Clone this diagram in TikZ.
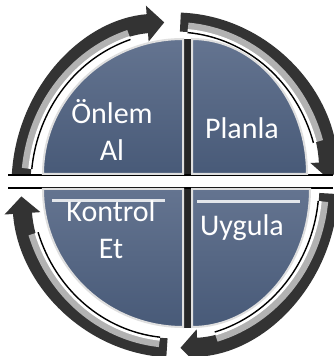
\documentclass[tikz,border=0pt]{standalone}
\usepackage{fontspec}
\setmainfont{Carlito}
\usetikzlibrary{arrows.meta}
\definecolor{slate}{RGB}{72,90,120}
\definecolor{slatelt}{RGB}{100,116,144}

\begin{document}
\begin{tikzpicture}[
  x=1pt, y=1pt,
  quad/.style={top color=slatelt, bottom color=slate, draw=gray!25, line width=2pt},
  ring/.style={line width=19pt, draw=black!80, -{Triangle[length=17pt, width=35pt]}},
  ringmid/.style={line width=8pt, draw=gray!60},
  ringhi/.style={line width=3pt, draw=white},
  edge/.style={line width=1.4pt, draw=black},
  lbl/.style={text=white, font=\fontsize{30}{37}\selectfont, align=center},
]
\useasboundingbox[fill=white] (0,0) rectangle (333,356);

% --- ring arrows ---
\foreach \a/\b [evaluate=\a as \as using \a-3, evaluate=\b as \bs using \b+14] in {177/94, 88/2, -3/-88, -93/-176}{
  \draw[ring, shift={(175,171)}] (\a:154 and 163) arc[start angle=\a, end angle=\b, x radius=154, y radius=163];
  \draw[ringmid, shift={(175,171)}] (\as:150 and 159) arc[start angle=\as, end angle=\bs, x radius=150, y radius=159];
  \draw[ringhi, shift={(175,171)}] (\as:146 and 155) arc[start angle=\as, end angle=\bs, x radius=146, y radius=155];
  \draw[edge, shift={(175,171)}] (\as:144 and 153) arc[start angle=\as, end angle=\bs, x radius=144, y radius=153];
}

% --- gaps ---
\fill[white] (8,168) rectangle (333,181);
\draw[edge] (8,181) -- (333,181);
\draw[edge] (8,168) -- (333,168);
\fill[black!85] (182,182) rectangle (193,317);
\fill[black!85] (182,167) rectangle (193,28);

% --- quadrants ---
\draw[quad] (183,182) -- (43,182) arc[start angle=180, end angle=90, x radius=140, y radius=135] -- cycle;
\draw[quad] (192,182) -- (192,317) arc[start angle=90, end angle=0, x radius=115, y radius=135] -- cycle;
\draw[quad] (192,167) -- (310,167) arc[start angle=0, end angle=-90, x radius=118, y radius=138] -- cycle;
\draw[quad] (183,167) -- (183,29) arc[start angle=270, end angle=180, x radius=140, y radius=138] -- cycle;
\draw[line width=3pt, white!85!slate] (52,155) -- (165,155);
\draw[line width=3pt, white!85!slate] (197,154) -- (300,154);

% --- labels ---
\node[lbl] (onlem)   at (112,226) {Önlem\\Al};
\node[lbl] (planla)  at (242,228) {Planla};
\node[lbl] (kontrol) at (111,126) {Kontrol\\Et};
\node[lbl] (uygula)  at (242,128) {Uygula};
\end{tikzpicture}
\end{document}
